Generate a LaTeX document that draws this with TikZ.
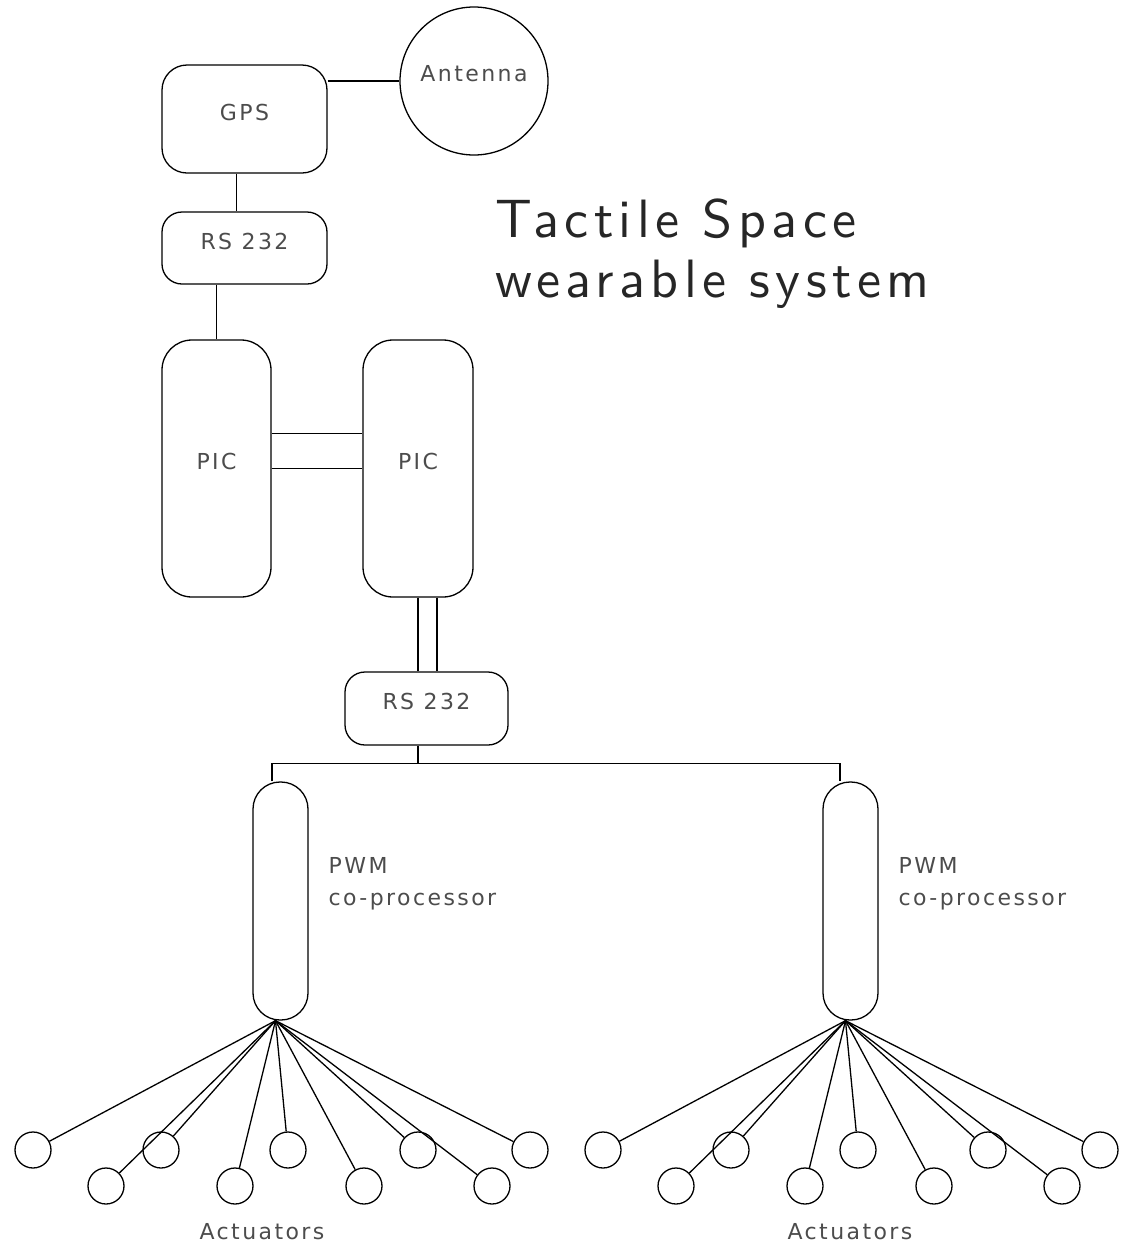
\documentclass[tikz,border=0pt]{standalone}
\usepackage{fontspec}
\usetikzlibrary{positioning}
\newfontfamily\lblfont[LetterSpace=11]{DejaVu Sans}
\newfontfamily\titlefont{lmsans10-regular.otf}[LetterSpace=10]

\begin{document}
\begin{tikzpicture}[x=1pt,y=-1pt,line width=1.3pt,
  box/.style={draw,rounded corners=#1,inner sep=0pt,text=black!70,
    font=\lblfont\fontsize{22}{26}\selectfont,text depth=14pt},
  lbl/.style={inner sep=0pt,text=black!70,font=\lblfont\fontsize{22}{32}\selectfont},
  act/.style={draw,circle,minimum size=36pt,inner sep=0pt}]
\useasboundingbox (0,0) rectangle (1123,1251);
% top part
\node[box=25,minimum width=165pt,minimum height=108pt] (gps) at (244.5,119) {GPS};
\node[draw,circle,minimum size=148pt,inner sep=0pt] (ant) at (474,81) {};
\node[lbl] (antlbl) at ([yshift=7pt]ant.center) {Antenna};
\node[box=20,minimum width=165pt,minimum height=72pt] (rsA) at (244.5,248) {RS 232};
\node[box=30,minimum width=109pt,minimum height=257pt] (picA) at (216.5,468.5) {PIC};
\node[box=30,minimum width=110pt,minimum height=257pt] (picB) at (418,468.5) {PIC};
\node[box=20,minimum width=163pt,minimum height=73pt] (rsB) at (426.5,708.5) {RS 232};
\node[box=27,minimum width=55pt,minimum height=238pt] (pwmA) at (280.5,901) {};
\node[box=27,minimum width=55pt,minimum height=238pt] (pwmB) at (850.5,901) {};
\node[inner sep=0pt,anchor=north west,align=left,text=black!85,
  font=\titlefont\fontsize{54}{60}\selectfont] (title) at (495,198)
  {Tactile Space\\wearable system};
% links
\draw (gps.east |- ant.west) -- (ant.west);
\draw ([xshift=-8pt]gps.south) -- ([xshift=-8pt]gps.south |- rsA.north);
\draw (rsA.south -| picA.north) -- (picA.north);
\draw ([yshift=35pt]picA.east) -- ([yshift=35pt]picB.west);
\draw (picA.east) -- (picB.west);
\draw (picB.south) -- (picB.south |- rsB.north);
\draw ([xshift=19pt]picB.south) -- ([xshift=19pt]picB.south |- rsB.north);
\coordinate (bus) at ([yshift=-18pt]rsB.south -| picB.south);
\draw (rsB.south -| picB.south) -- (bus);
\draw ([xshift=-8.5pt]pwmA.north) |- (bus) -| ([xshift=-10.5pt]pwmB.north);
\node[lbl,anchor=west,align=left] (pwmAlbl) at (328,884) {PWM\\co-processor};
\node[lbl,anchor=west,align=left] (pwmBlbl) at (898,884) {PWM\\co-processor};
% actuators
\foreach \g/\dx in {A/0,B/570} {
  \coordinate (fan\g) at ([xshift=-5pt]pwm\g.south);
  \foreach \x [count=\i] in {33,161,288,418,530} {
    \node[act] (top\g\i) at (\x+\dx,1150) {};
    \draw (fan\g) -- (top\g\i);
  }
  \foreach \x [count=\i] in {106,235,364,492} {
    \node[act] (bot\g\i) at (\x+\dx,1186) {};
    \draw (fan\g) -- (bot\g\i);
  }
}
\node[lbl] (actAlbl) at (262,1232) {Actuators};
\node[lbl] (actBlbl) at (850,1232) {Actuators};
\end{tikzpicture}
\end{document}
